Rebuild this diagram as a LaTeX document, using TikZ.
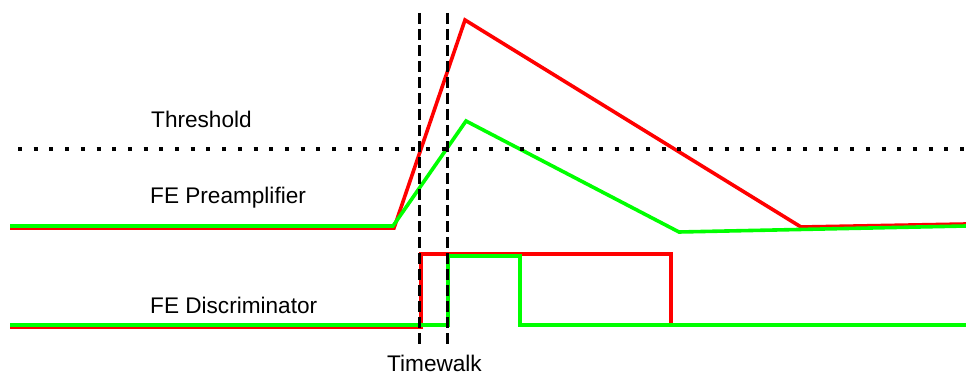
\documentclass[tikz,border=0pt]{standalone}
\usepackage{fontspec}
\setmainfont{Liberation Sans}
\begin{document}
\begin{tikzpicture}[x=1pt,y=-1pt,
  sig/.style={line width=3.6pt,line join=miter},
  redsig/.style={sig,draw={rgb,255:red,255;green,0;blue,0}},
  greensig/.style={sig,draw={rgb,255:red,0;green,255;blue,0}},
  walkline/.style={line width=3.3pt,dash pattern=on 11pt off 5pt},
  thrline/.style={line width=4pt,dash pattern=on 4pt off 11.7pt},
  lbl/.style={anchor=base west,inner sep=0pt,font=\fontsize{22.6}{27}\selectfont}]
\useasboundingbox (0,0) rectangle (966,374);
% preamplifier
\coordinate (r0) at (10,228);
\coordinate (r1) at (394,228);
\coordinate (r2) at (465,20);
\coordinate (r3) at (801,227);
\coordinate (r4) at (966,224);
\coordinate (g0) at (10,226);
\coordinate (g1) at (393,226);
\coordinate (g2) at (466,121);
\coordinate (g3) at (679,232);
\coordinate (g4) at (966,226);
\draw[redsig] (r0) -- (r1) -- (r2) -- (r3) -- (r4);
\draw[greensig] (g0) -- (g1) -- (g2) -- (g3) -- (g4);
% discriminator
\coordinate (d0) at (10,327);
\coordinate (d1) at (421,327);
\coordinate (d2) at (421,254);
\coordinate (d3) at (671,254);
\coordinate (d4) at (671,325);
\coordinate (e0) at (10,325);
\coordinate (e1) at (448,325);
\coordinate (e2) at (448,256);
\coordinate (e3) at (520,256);
\coordinate (e4) at (520,325);
\coordinate (e5) at (966,325);
\draw[redsig] (d0) -- (d1) -- (d2) -- (d3) -- (d4);
\draw[greensig] (e0) -- (e1) -- (e2) -- (e3) -- (e4) -- (e5);
% threshold
\coordinate (t0) at (18,149);
\coordinate (t1) at (966,149);
\draw[thrline] (t0) -- (t1);
% timewalk lines
\coordinate (w0) at (419.5,13);
\coordinate (w1) at (419.5,345);
\coordinate (v0) at (447.5,13);
\coordinate (v1) at (447.5,345);
\draw[walkline] (w0) -- (w1);
\draw[walkline] (v0) -- (v1);
% labels
\node[lbl] (thr) at (151,128) {Threshold};
\node[lbl] (pre) at (150,204) {FE Preamplifier};
\node[lbl] (dis) at (150,313) {FE Discriminator};
\node[lbl] (tw) at (387,371) {Timewalk};
\end{tikzpicture}
\end{document}
